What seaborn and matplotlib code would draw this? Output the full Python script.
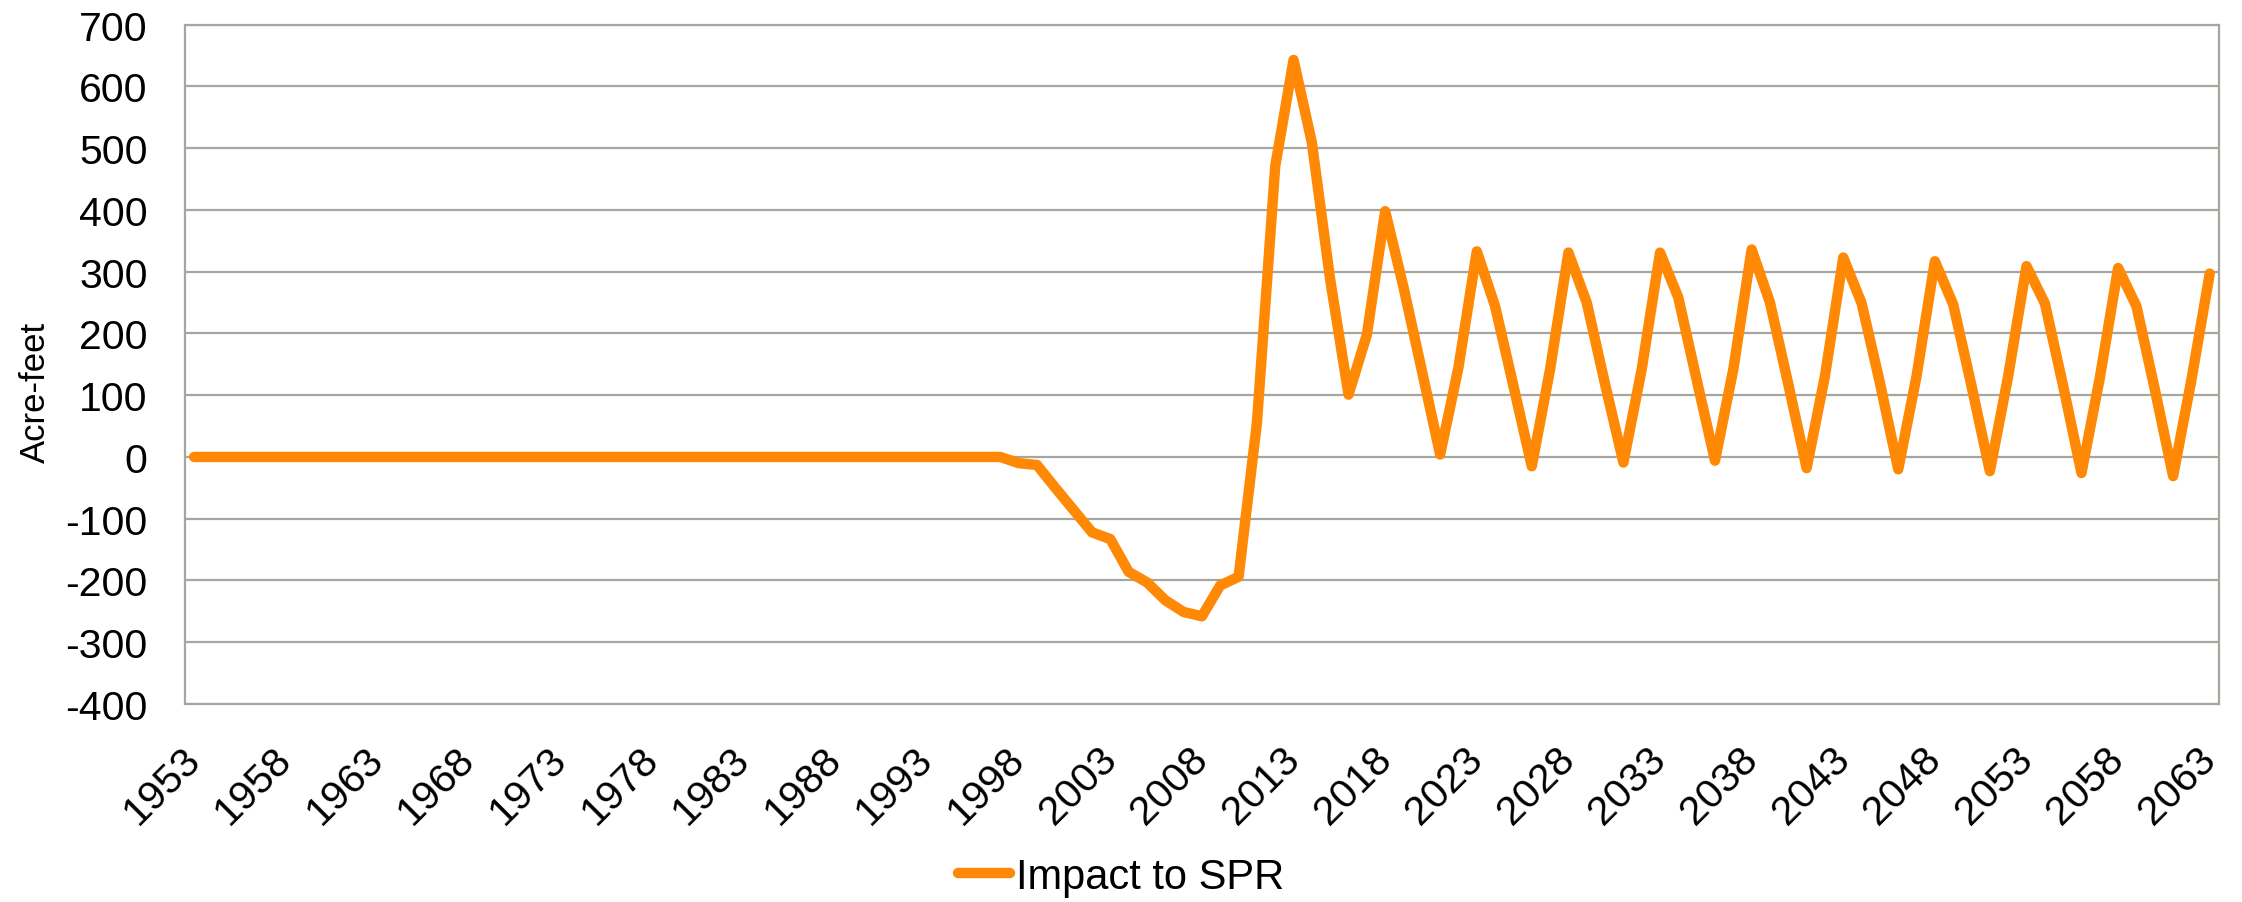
import matplotlib
matplotlib.use("Agg")
import matplotlib.pyplot as plt
import matplotlib.transforms as mtransforms
import seaborn as sns
import pandas as pd

# Impact to SPR, acre-feet per year
years = list(range(1953, 2064))
flat_years = 45  # 1953-1997 are zero
impact = [0] * flat_years + [
    -10, -13, -50, -86, -122, -133, -186, -203, -232, -251,   # 1998-2007
    -258, -208, -194, 55, 471, 643, 509, 287, 101, 198,        # 2008-2017
    398, 275, 140, 4, 145, 333, 244, 115, -15, 142,            # 2018-2027
    331, 250, 118, -9, 142, 331, 258, 125, -6, 142,            # 2028-2037
    336, 250, 118, -18, 131, 323, 249, 120, -20, 131,          # 2038-2047
    317, 247, 115, -23, 131, 309, 249, 115, -26, 128,          # 2048-2057
    306, 244, 110, -31, 125, 297,                              # 2058-2063
]
series_name = "Impact to SPR"
y_label = "Acre-feet"
y_ticks = list(range(-400, 701, 100))
x_ticks = list(range(1953, 2064, 5))

df = pd.DataFrame({"year": years, "value": impact, "series": series_name})

sns.set_theme(style="white")
plt.rcParams["font.family"] = ["Liberation Sans", "DejaVu Sans"]
plt.rcParams["axes.unicode_minus"] = False
plt.rcParams["text.color"] = "black"
plt.rcParams["axes.labelcolor"] = "black"

fs = 29.5
orange = "#FF8805"
grid_c = "#A6A69E"

fig = plt.figure(figsize=(22.42, 9.03), dpi=100)
ax = fig.add_axes([0.0825, 0.2193, 0.9072, 0.7522])

sns.lineplot(data=df, x="year", y="value", hue="series", palette=[orange],
             linewidth=7.5, ax=ax, legend=False)
for ln in ax.get_lines():
    ln.set_solid_capstyle("round")
    ln.set_solid_joinstyle("round")

ax.set_xlim(1952.5, 2063.5)
ax.set_ylim(-400, 700)
ax.set_yticks(y_ticks)
ax.set_xticks(x_ticks)
ax.set_xticklabels([str(x) for x in x_ticks], rotation=45, ha="right",
                   va="center", rotation_mode="anchor")
shift = mtransforms.ScaledTranslation(14 / 100, 0, fig.dpi_scale_trans)
for lbl in ax.get_xticklabels():
    lbl.set_transform(lbl.get_transform() + shift)
ax.tick_params(axis="both", length=0, labelsize=fs, colors="black")
ax.tick_params(axis="x", pad=35)
ax.tick_params(axis="y", pad=27)
ax.yaxis.grid(True, color=grid_c, linewidth=1.6)
ax.set_axisbelow(True)
for s in ax.spines.values():
    s.set_color(grid_c)
    s.set_linewidth(1.6)

ax.set_xlabel("")
ax.set_ylabel(y_label, fontsize=25, color="black")
ax.yaxis.set_label_coords(-0.0655, 0.46)

handle = plt.Line2D([], [], color=orange, linewidth=7.5, solid_capstyle="round")
leg = fig.legend([handle], [series_name], loc="center", bbox_to_anchor=(0.5, 0.028),
                 frameon=False, fontsize=30, handlelength=1.25, handletextpad=0.15)
for t in leg.get_texts():
    t.set_color("black")

fig.savefig("out.png", dpi=100, facecolor="white")
